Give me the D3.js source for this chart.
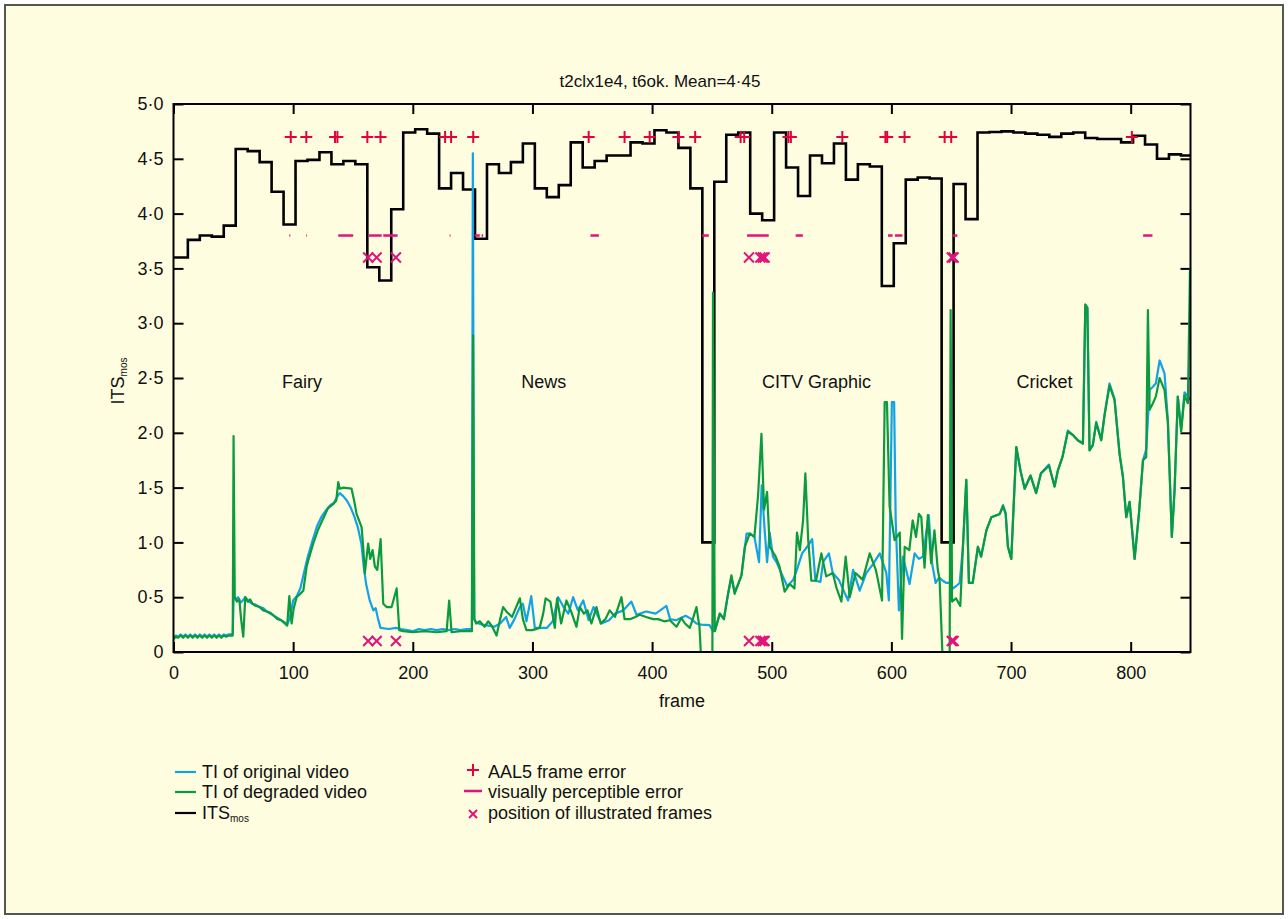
<!DOCTYPE html>
<html>
<head>
<meta charset="utf-8">
<script src="https://cdn.jsdelivr.net/npm/d3@7/dist/d3.min.js"></script>
<style>
    body { margin: 0; background: #fff; }
    text { font-family: "Liberation Sans", Arial, sans-serif; font-size: 18px; fill: #111; }
    .axis path { display: none; }
    .axis line { stroke: #000; stroke-width: 2; }
</style>
</head>
<body>
<script>
//chart values
var titleText = "t2clx1e4, t6ok. Mean=4\u00b745";

var xTicks = [0, 100, 200, 300, 400, 500, 600, 700, 800];
var yTicks = [0, 0.5, 1, 1.5, 2, 2.5, 3, 3.5, 4, 4.5, 5];
var yTickLabels = ["0", "0\u00b75", "1\u00b70", "1\u00b75", "2\u00b70", "2\u00b75", "3\u00b70", "3\u00b75", "4\u00b70", "4\u00b75", "5\u00b70"];

//ITS mos step line: frame where each step starts, and its value
var itsFrames = [0, 12, 22, 32, 42, 52, 62, 72, 82, 92, 102, 112, 122, 132, 142, 152, 162, 172, 182, 192,
    202, 212, 222, 232, 242, 252, 262, 272, 282, 292, 302, 312, 322, 332, 342, 352, 362, 372, 382, 392,
    402, 412, 422, 432, 442, 452, 462, 472, 482, 492, 502, 512, 522, 532, 542, 552, 562, 572, 582, 592,
    602, 612, 622, 632, 642, 652, 662, 672, 682, 692, 702, 712, 722, 732, 742, 752, 762, 772, 782, 792,
    802, 812, 822, 832, 842, 850];
var itsValues = [3.60, 3.76, 3.80, 3.79, 3.89, 4.59, 4.57, 4.47, 4.20, 3.90, 4.48, 4.49, 4.56, 4.45, 4.48, 4.45, 3.51, 3.39, 4.04, 4.74,
    4.77, 4.73, 4.23, 4.37, 4.22, 3.77, 4.45, 4.37, 4.47, 4.64, 4.23, 4.15, 4.26, 4.65, 4.42, 4.48, 4.53, 4.53, 4.65, 4.64,
    4.76, 4.74, 4.60, 4.23, 1.00, 4.29, 4.72, 4.74, 4.00, 3.94, 4.74, 4.42, 4.16, 4.53, 4.46, 4.64, 4.31, 4.45, 4.43, 3.34,
    3.73, 4.31, 4.33, 4.32, 1.00, 4.27, 3.95, 4.74, 4.745, 4.75, 4.74, 4.73, 4.72, 4.70, 4.73, 4.74, 4.69, 4.68, 4.68, 4.65,
    4.71, 4.63, 4.50, 4.54, 4.53, 4.53];

//TI of original video [frame, value]
var tiOriginal = [[0,0.13],[2,0.15],[4,0.14],[6,0.16],[8,0.14],[10,0.16],[12,0.14],[14,0.16],[16,0.14],[18,0.16],[20,0.14],[22,0.16],
    [24,0.14],[26,0.16],[28,0.14],[30,0.16],[32,0.14],[34,0.16],[36,0.14],[38,0.16],[40,0.14],[42,0.16],[44,0.15],[46,0.16],[48,0.16],
    [49.5,0.17],[50.3,0.50],[52,0.48],[54,0.50],[56,0.45],[58,0.47],[60,0.50],[63,0.46],[66,0.44],[69,0.43],[72,0.41],[75,0.40],
    [78,0.37],[81,0.36],[84,0.33],[87,0.31],[90,0.29],[93,0.27],[95,0.25],[97,0.30],[100,0.47],[103,0.51],[106,0.58],[109,0.72],
    [112,0.86],[116,1.01],[120,1.15],[124,1.24],[128,1.30],[131,1.34],[134,1.36],[137,1.42],[139,1.45],[142,1.42],[145,1.38],
    [148,1.32],[151,1.24],[154,1.14],[157,0.99],[159,0.78],[161,0.62],[164,0.47],[167,0.38],[169,0.40],[171,0.30],[173,0.22],
    [180,0.21],[186,0.22],[190,0.21],[195,0.20],[200,0.19],[205,0.21],[210,0.20],[215,0.21],[220,0.20],[225,0.21],[230,0.20],
    [235,0.21],[240,0.20],[245,0.21],[249.4,0.21],[250.2,4.55],[251.2,0.30],[253,0.27],[258,0.25],[263,0.24],[268,0.23],
    [273,0.26],[278,0.32],[281,0.22],[285,0.30],[289.5,0.41],[292,0.44],[295,0.28],[299,0.51],[302,0.22],[307,0.22],[312,0.22],
    [317,0.28],[321.5,0.50],[326,0.41],[330,0.35],[334,0.50],[338,0.38],[342.5,0.47],[347,0.29],[351,0.41],[357.6,0.26],
    [364,0.29],[369,0.35],[376,0.38],[382.7,0.46],[387,0.34],[395,0.37],[403,0.35],[412,0.42],[415,0.30],[420,0.29],[428,0.33],
    [433,0.30],[437,0.26],[441,0.25],[448,0.245],[451,0.19],[452.4,0.19],[456.6,0.35],[460,0.30],[463.5,0.53],[466.3,0.68],
    [469,0.55],[472,0.62],[474.7,0.70],[477.5,0.95],[479,1.08],[482,1.08],[485.5,1.05],[489.4,0.82],[491.6,1.52],[494.1,1.11],
    [496.1,0.82],[498.3,1.09],[501,0.87],[504,0.82],[508,0.72],[513,0.60],[518,0.66],[521,0.75],[525.4,0.90],[529.6,0.96],
    [533.8,1.03],[536.5,0.65],[540.7,0.64],[542.9,0.82],[547.8,0.90],[551,0.72],[556,0.66],[563.8,0.47],[568,0.75],[573.5,0.56],
    [579,0.72],[584.5,0.80],[590.3,0.90],[595.8,0.72],[597.9,0.47],[600.4,2.28],[602.3,2.28],[603.6,1.20],[606.3,0.38],
    [609.6,0.87],[615.2,0.62],[619.4,0.90],[623,0.85],[626.4,0.87],[631.2,1.25],[634,0.81],[637,0.63],[640,0.68],[643,0.65],
    [646,0.63],[649,0.63],[651.5,0.58],[654,0.60],[657.1,0.63],[659.8,0.96],[662.6,1.57],[664.8,0.63],[668,0.63],[672.3,0.96],
    [675,0.87],[679.4,1.11],[683.6,1.23],[690.6,1.26],[693.3,1.34],[695.5,1.27],[697.4,0.96],[700.2,0.85],[704.4,1.87],[708,1.65],
    [711.4,1.49],[716.3,1.61],[721,1.45],[725,1.63],[731.7,1.71],[736.4,1.51],[739,1.65],[743,1.78],[747.5,2.02],[751.7,1.98],
    [756,1.93],[760.1,1.91],[762.1,3.17],[763.8,3.14],[765.6,1.84],[768.4,1.89],[771.2,2.10],[775.4,1.94],[778.2,2.17],
    [782.3,2.45],[786.5,2.31],[790.7,1.81],[793.5,1.60],[796.3,1.23],[799.1,1.37],[803.3,0.85],[806.9,1.26],[810.3,1.75],
    [813,1.85],[815.8,2.39],[818.6,2.42],[821,2.45],[824.2,2.66],[828.3,2.54],[831.1,2.11],[834.4,1.05],[836.7,1.48],
    [839.4,2.33],[842.2,2.03],[845,2.37],[847.8,2.33],[849.6,2.30]];

//TI of degraded video [frame, value]
var tiDegraded = [[0,0.12],[2,0.14],[4,0.13],[6,0.15],[8,0.13],[10,0.15],[12,0.13],[14,0.15],[16,0.13],[18,0.15],[20,0.13],[22,0.15],
    [24,0.13],[26,0.15],[28,0.13],[30,0.15],[32,0.13],[34,0.15],[36,0.13],[38,0.15],[40,0.13],[42,0.15],[44,0.14],[46,0.15],[48,0.15],
    [49.5,0.15],[50.2,1.97],[51.2,0.50],[53,0.46],[55,0.48],[56.5,0.30],[58.3,0.14],[60,0.50],[62,0.46],[64,0.48],[66,0.44],
    [69,0.42],[72,0.41],[75,0.38],[78,0.37],[81,0.35],[84,0.33],[87,0.30],[90,0.29],[93,0.26],[95,0.24],[96.8,0.51],[98.7,0.26],
    [100.5,0.40],[102.9,0.50],[105,0.52],[108.5,0.56],[111.3,0.78],[113,0.85],[116.8,0.99],[121,1.12],[125.2,1.22],[129,1.31],
    [133.5,1.35],[136,1.38],[137.7,1.55],[139,1.49],[142,1.50],[148.8,1.49],[151,1.38],[153,1.26],[157.2,1.14],[158.6,0.95],
    [159.9,0.72],[162.7,0.99],[164.4,0.85],[166.4,0.93],[168.3,0.78],[170.3,0.75],[173.1,1.03],[175.3,0.44],[178.1,0.41],
    [182.3,0.41],[186.5,0.58],[188.7,0.20],[192,0.19],[200,0.18],[210,0.19],[220,0.18],[228.3,0.19],[230.4,0.47],[232.4,0.18],
    [240,0.19],[249.4,0.19],[250.4,2.89],[251.5,0.30],[253,0.26],[256,0.28],[260,0.23],[263,0.28],[266,0.24],[270,0.15],
    [273,0.30],[275.5,0.41],[279,0.36],[283,0.32],[286,0.40],[289.5,0.49],[292,0.30],[295,0.20],[300,0.20],[306,0.22],
    [309,0.35],[311,0.49],[315,0.46],[318.7,0.22],[320.6,0.49],[324,0.26],[328.4,0.47],[332,0.38],[336.8,0.23],[339.6,0.41],
    [343,0.35],[346,0.38],[349.3,0.26],[353.5,0.41],[357,0.26],[361,0.30],[364.6,0.38],[369,0.32],[374.4,0.50],[377,0.30],
    [382,0.30],[386,0.32],[389.7,0.34],[395,0.32],[400.9,0.30],[405,0.30],[410,0.28],[414.8,0.29],[420.4,0.23],[424.5,0.31],
    [427.5,0.26],[431.5,0.22],[434,0.30],[437.1,0.41],[439.6,0.23],[440.7,0.0],[450.4,0.0],[450.9,3.28],[452.4,0.19],
    [456.6,0.35],[460,0.30],[463.5,0.53],[466.3,0.70],[469,0.53],[472,0.62],[474.7,0.70],[477.5,0.96],[481.6,1.08],[485.5,1.05],
    [488.6,1.43],[491.4,1.99],[493.6,1.30],[496.1,1.46],[498.3,0.96],[503.3,0.87],[506.5,0.78],[510.8,0.55],[515,0.62],
    [519,0.58],[521.1,1.09],[523.5,0.93],[526.2,1.20],[528.1,1.63],[530.5,1.02],[533.1,0.65],[537,0.65],[541.5,0.90],
    [545.5,0.69],[551,0.72],[554,0.59],[558.2,0.46],[561.8,0.87],[565.2,0.50],[570,0.72],[576,0.66],[581.9,0.90],[587,0.75],
    [592.2,0.47],[594.4,2.28],[596.3,2.28],[598.5,1.33],[602.7,1.02],[607,1.09],[608.9,0.12],[611.1,0.96],[615,0.93],
    [617.8,1.20],[620.6,1.05],[623,1.26],[625,1.23],[627.7,0.77],[630.5,1.25],[633.2,0.81],[636,1.11],[638.8,0.75],[640.3,0.66],
    [642.6,0.0],[648.7,0.0],[649.5,3.12],[650.7,0.46],[654,0.49],[657.6,0.42],[659.8,0.96],[662.6,1.57],[664.8,0.63],[668,0.63],
    [672.3,0.96],[675,0.87],[679.4,1.11],[683.6,1.23],[690.6,1.26],[693.3,1.33],[695.5,1.26],[697.4,0.96],[700.2,0.85],
    [704.4,1.87],[708,1.65],[711.4,1.49],[716.3,1.61],[721,1.45],[725,1.63],[731.7,1.70],[736.4,1.51],[739,1.65],[743,1.78],
    [747.5,2.01],[751.7,1.98],[756,1.93],[760.1,1.90],[762.1,3.17],[763.8,3.14],[765.6,1.84],[768.4,1.89],[771.2,2.09],
    [775.4,1.93],[778.2,2.16],[782.3,2.43],[786.5,2.30],[790.7,1.81],[793.5,1.60],[796.3,1.23],[799.1,1.37],[803.3,0.85],
    [806.9,1.26],[810.3,1.75],[813,1.78],[814.4,3.12],[815.8,2.21],[818.6,2.27],[821,2.33],[824.2,2.50],[828.3,2.39],
    [831.1,2.09],[834.4,1.05],[836.7,1.48],[839.4,2.33],[842.2,2.01],[845,2.34],[847.8,2.27],[849.6,3.50]];

//error markers
var aal5Frames = [98, 111, 135, 137, 162, 173, 227, 232, 250.5, 347, 377, 398, 422, 436, 474, 477, 514, 516, 559, 595, 596.5, 611, 644.5, 650, 801];
var aal5Level = 4.7;
var visibleErrors = [[96.8, 97.6], [111, 111.6], [137.7, 150.2], [162.7, 174], [175.3, 187.3], [230.8, 231.5], [251.9, 256],
    [257.5, 258.8], [348.5, 355.5], [441.8, 447.4], [479.4, 497.5], [520, 526], [597.2, 601], [603, 609.2], [651.5, 655.1], [810.4, 818.2]];
var visibleLevel = 3.8;
var illustratedFrames = [162.7, 169.8, 185.9, 481, 490.5, 492.5, 494, 650.5, 652];
var illustratedLevels = [3.6, 0.1];

//sequence names written inside the plot
var sequenceNames = ["Fairy", "News", "CITV Graphic", "Cricket"];
var sequenceFrames = [107.5, 309.5, 537.5, 728];
var sequenceLevel = 2.41;

var legendLines = ["TI of original video", "TI of degraded video", "ITS"];
var legendMarks = ["AAL5 frame error", "visually perceptible error", "position of illustrated frames"];

//colours
var blue = "#12a2e6",
    green = "#0b9a3e",
    red = "#e6003c",
    pink = "#e0147c";

window.onload = setChart();

function setChart(){

    var width = 1288,
        height = 919;

    var svg = d3.select("body")
        .append("svg")
        .attr("width", width)
        .attr("height", height);

    //page background and frame
    svg.append("rect")
        .attr("x", 5).attr("y", 5)
        .attr("width", 1278).attr("height", 909)
        .attr("fill", "#fefde0")
        .attr("stroke", "#555")
        .attr("stroke-width", 2);

    var x = d3.scaleLinear().domain([0, 850]).range([173.5, 1190.5]);
    var y = d3.scaleLinear().domain([0, 5]).range([652, 104]);

    //axes with inward ticks on all four sides
    svg.append("g")
        .attr("class", "axis")
        .attr("transform", "translate(0,652)")
        .call(d3.axisBottom(x).tickValues(xTicks).tickSize(-10).tickPadding(14).tickFormat(d3.format("d")));
    svg.append("g")
        .attr("class", "axis")
        .attr("transform", "translate(0,104)")
        .call(d3.axisTop(x).tickValues(xTicks).tickSize(-10).tickFormat(""));
    svg.append("g")
        .attr("class", "axis")
        .attr("transform", "translate(173.5,0)")
        .call(d3.axisLeft(y).tickValues(yTicks).tickSize(-10).tickPadding(10)
            .tickFormat(function(d, i){ return yTickLabels[i]; }));
    svg.append("g")
        .attr("class", "axis")
        .attr("transform", "translate(1190.5,0)")
        .call(d3.axisRight(y).tickValues(yTicks).tickSize(-10).tickFormat(""));

    svg.selectAll(".axis text")
        .style("font-size", "18px")
        .attr("fill", "#111");

    //ITS step line
    var itsData = itsFrames.map(function(f, i){ return [f, itsValues[i]]; });
    var stepLine = d3.line()
        .x(function(d){ return x(d[0]); })
        .y(function(d){ return y(d[1]); })
        .curve(d3.curveStepAfter);
    svg.append("path")
        .datum(itsData)
        .attr("fill", "none")
        .attr("stroke", "#000")
        .attr("stroke-width", 2.6)
        .attr("d", stepLine);

    //TI curves
    var tiLine = d3.line()
        .x(function(d){ return x(d[0]); })
        .y(function(d){ return y(d[1]); });
    svg.append("path")
        .datum(tiOriginal)
        .attr("fill", "none")
        .attr("stroke", blue)
        .attr("stroke-width", 2.2)
        .attr("stroke-linejoin", "round")
        .attr("d", tiLine);
    svg.append("path")
        .datum(tiDegraded)
        .attr("fill", "none")
        .attr("stroke", green)
        .attr("stroke-width", 2.2)
        .attr("stroke-linejoin", "round")
        .attr("d", tiLine);

    //plot border
    svg.append("rect")
        .attr("x", x(0)).attr("y", y(5))
        .attr("width", x(850) - x(0)).attr("height", y(0) - y(5))
        .attr("fill", "none")
        .attr("stroke", "#000")
        .attr("stroke-width", 2);

    //AAL5 frame errors as plus signs
    svg.selectAll(".aal5")
        .data(aal5Frames)
        .enter()
        .append("path")
        .attr("class", "aal5")
        .attr("d", function(d){
            var cx = x(d), cy = y(aal5Level);
            return "M" + (cx - 6) + "," + cy + "H" + (cx + 6) + "M" + cx + "," + (cy - 6) + "V" + (cy + 6);
        })
        .attr("stroke", red)
        .attr("stroke-width", 2);

    //visually perceptible errors as short bars over their frames
    svg.selectAll(".visible")
        .data(visibleErrors)
        .enter()
        .append("line")
        .attr("class", "visible")
        .attr("x1", function(d){ return x(d[0]); })
        .attr("x2", function(d){ return x(d[1]); })
        .attr("y1", y(visibleLevel))
        .attr("y2", y(visibleLevel))
        .attr("stroke", pink)
        .attr("stroke-width", 2.5);

    //illustrated frames as crosses, two rows
    illustratedLevels.forEach(function(level, k){
        svg.selectAll(".cross" + k)
            .data(illustratedFrames)
            .enter()
            .append("path")
            .attr("class", "cross" + k)
            .attr("d", function(d){
                var cx = x(d), cy = y(level);
                return "M" + (cx - 5) + "," + (cy - 5) + "L" + (cx + 5) + "," + (cy + 5) +
                    "M" + (cx - 5) + "," + (cy + 5) + "L" + (cx + 5) + "," + (cy - 5);
            })
            .attr("stroke", pink)
            .attr("stroke-width", 2);
    });

    //sequence names
    svg.selectAll(".seq")
        .data(sequenceNames)
        .enter()
        .append("text")
        .attr("class", "seq")
        .attr("x", function(d, i){ return x(sequenceFrames[i]); })
        .attr("y", y(sequenceLevel))
        .attr("text-anchor", "middle")
        .text(function(d){ return d; });

    //title and axis labels
    svg.append("text")
        .attr("x", 660).attr("y", 87)
        .attr("text-anchor", "middle")
        .style("font-size", "17px")
        .text(titleText);

    svg.append("text")
        .attr("x", x(425)).attr("y", 707)
        .attr("text-anchor", "middle")
        .text("frame");

    var yLabel = svg.append("text")
        .attr("transform", "translate(124,381) rotate(-90)")
        .attr("text-anchor", "middle");
    yLabel.append("tspan").text("ITS");
    yLabel.append("tspan").style("font-size", "10px").attr("dy", 3).text("mos");

    //legend, left column: line samples
    var lineColours = [blue, green, "#000"];
    var legendRows = [772, 792, 813];
    legendLines.forEach(function(label, i){
        svg.append("line")
            .attr("x1", 175).attr("x2", 196)
            .attr("y1", legendRows[i]).attr("y2", legendRows[i])
            .attr("stroke", lineColours[i])
            .attr("stroke-width", 2.2);
        var t = svg.append("text")
            .attr("x", 202).attr("y", legendRows[i] + 6);
        t.append("tspan").text(label);
        if (i == 2) {
            t.append("tspan").style("font-size", "10px").attr("dy", 3).text("mos");
        }
    });

    //legend, right column: marker samples
    var mx = 473;
    svg.append("path")
        .attr("d", "M" + (mx - 6) + "," + (legendRows[0] - 2) + "H" + (mx + 6) + "M" + mx + "," + (legendRows[0] - 8) + "V" + (legendRows[0] + 4))
        .attr("stroke", red).attr("stroke-width", 2);
    svg.append("line")
        .attr("x1", mx - 9).attr("x2", mx + 9)
        .attr("y1", legendRows[1] - 1).attr("y2", legendRows[1] - 1)
        .attr("stroke", pink).attr("stroke-width", 2.5);
    svg.append("path")
        .attr("d", "M" + (mx - 4) + "," + (legendRows[2] - 3) + "L" + (mx + 4) + "," + (legendRows[2] + 5) +
            "M" + (mx - 4) + "," + (legendRows[2] + 5) + "L" + (mx + 4) + "," + (legendRows[2] - 3))
        .attr("stroke", pink).attr("stroke-width", 2);
    legendMarks.forEach(function(label, i){
        svg.append("text")
            .attr("x", 488).attr("y", legendRows[i] + 6)
            .text(label);
    });
};
</script>
</body>
</html>
